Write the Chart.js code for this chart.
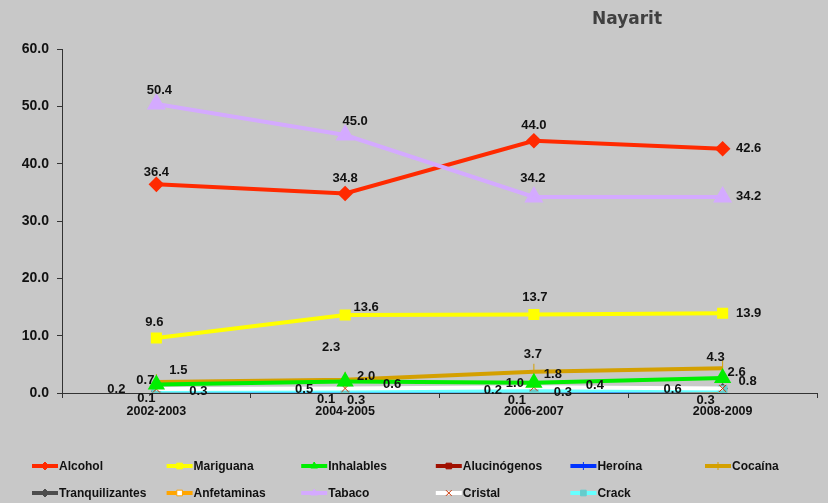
<!DOCTYPE html>
<html>
<head>
<meta charset="utf-8">
<script src="https://cdn.jsdelivr.net/npm/chart.js@4.4.0/dist/chart.umd.min.js"></script>
<style>
  html, body { margin: 0; padding: 0; background: #c8c8c8; }
  #wrap { width: 828px; height: 503px; position: relative; }
</style>
</head>
<body>
<div id="wrap"><canvas id="lineChart" width="828" height="503"></canvas></div>
<script>
// periods on the x axis
const periods = ['2002-2003', '2004-2005', '2006-2007', '2008-2009'];
const yTicks = [0, 10, 20, 30, 40, 50, 60];

// prevalence per substance
const alcohol = [36.4, 34.8, 44.0, 42.6];
const mariguana = [9.6, 13.6, 13.7, 13.9];
const inhalables = [1.5, 2.0, 1.8, 2.6];
const alucinogenos = [0.2, 0.5, 0.2, 0.6];
const heroina = [0.1, 0.1, 0.1, 0.3];
const cocaina = [1.9, 2.3, 3.7, 4.3];
const tranquilizantes = [0.3, 0.6, 0.4, 0.8];
const anfetaminas = [0.1, 0.3, 0.3, 0.1];
const tabaco = [50.4, 45.0, 34.2, 34.2];
const cristal = [0.7, 0.8, 1.0, 0.8];
const crack = [0.4, 0.4, 0.4, 0.5];

// label offsets (dx, dy) from each point, null = no label shown
const labelOffsets = {
    'Alcohol': [[0, -12], [0, -15], [0, -15], [26, 0]],
    'Mariguana': [[-2, -16], [21, -8], [1, -17], [26, 0]],
    'Inhalables': [[22, -14], [21, -5], [19, -8], [14, -6]],
    'Alucinógenos': [[-40, -2], [-41, -1], [-41, -1], [-50, 0]],
    'Heroína': [[-10, 6], [-19, 7], [-17, 8], [-17, 9]],
    'Cocaína': [null, [-14, -32], [-1, -17], [-7, -11]],
    'Tranquilizantes': [[42, 0], [47, -5], [61, -5], [25, -7]],
    'Anfetaminas': [null, [11, 9], [29, 1], null],
    'Tabaco': [[3, -14], [10, -14], [-1, -18], [26, 0]],
    'Cristal': [[-11, -9], null, [-19, -4], null],
    'Crack': [null, null, null, null]
};

function makeSet(label, data, color, style, extra) {
    return Object.assign({
        label: label,
        data: data,
        borderColor: color,
        backgroundColor: color,
        pointBorderColor: color,
        pointBackgroundColor: color,
        pointStyle: style,
        pointRadius: 4,
        borderWidth: 4,
        tension: 0,
        fill: false,
        order: 0
    }, extra || {});
}

// lower "order" is painted on top
const datasets = [
    makeSet('Alcohol', alcohol, '#ff2a00', 'rectRot', { pointRadius: 5, order: -3 }),
    makeSet('Mariguana', mariguana, '#ffff00', 'rect', { pointRadius: 5, order: -3 }),
    makeSet('Inhalables', inhalables, '#00ee00', 'triangle', { pointRadius: 6, order: -2 }),
    makeSet('Alucinógenos', alucinogenos, '#a01000', 'rect', { borderWidth: 2 }),
    makeSet('Heroína', heroina, '#0033ff', 'cross', { borderWidth: 2, pointBorderWidth: 1 }),
    makeSet('Cocaína', cocaina, '#d4a000', 'line', { pointRotation: 90, pointRadius: 8, pointBorderWidth: 1, order: -2 }),
    makeSet('Tranquilizantes', tranquilizantes, '#4d4d4d', 'rectRot', { borderWidth: 2 }),
    makeSet('Anfetaminas', anfetaminas, '#ffa500', 'rect', { borderWidth: 2, pointBackgroundColor: '#ffffff', pointBorderColor: '#ffa500', pointBorderWidth: 1 }),
    makeSet('Tabaco', tabaco, '#d4aaff', 'triangle', { pointRadius: 7, order: -4 }),
    makeSet('Cristal', cristal, '#ffffff', 'crossRot', { pointBorderColor: '#cc3300', pointBorderWidth: 1, pointRadius: 5, order: -1 }),
    makeSet('Crack', crack, '#66ffff', 'rect', { pointBackgroundColor: '#66cccc', pointBorderColor: '#66cccc', order: -1 })
];

// background colour of the whole canvas
const bgPlugin = {
    id: 'bg',
    beforeDraw(chart) {
        const ctx = chart.ctx;
        ctx.save();
        ctx.fillStyle = '#c8c8c8';
        ctx.fillRect(0, 0, chart.width, chart.height);
        ctx.restore();
    }
};

// value labels next to the points
const labelPlugin = {
    id: 'valueLabels',
    afterDatasetsDraw(chart) {
        const ctx = chart.ctx;
        ctx.save();
        ctx.font = 'bold 13px "Liberation Sans", Arial, sans-serif';
        ctx.fillStyle = '#111';
        ctx.textAlign = 'center';
        ctx.textBaseline = 'middle';
        chart.data.datasets.forEach((ds, i) => {
            const offs = labelOffsets[ds.label];
            chart.getDatasetMeta(i).data.forEach((pt, j) => {
                const o = offs[j];
                if (!o) return;
                ctx.fillText(ds.data[j].toFixed(1), pt.x + o[0], pt.y + o[1]);
            });
        });
        ctx.restore();
    }
};

// title and the two-row legend at the bottom
const legendPlugin = {
    id: 'gridLegend',
    afterDraw(chart) {
        const ctx = chart.ctx;
        ctx.save();
        ctx.font = 'bold 17px "DejaVu Sans", sans-serif';
        ctx.fillStyle = '#404040';
        ctx.textAlign = 'center';
        ctx.textBaseline = 'middle';
        ctx.fillText('Nayarit', 627, 20);

        ctx.font = 'bold 12px "Liberation Sans", Arial, sans-serif';
        ctx.textAlign = 'left';
        chart.data.datasets.forEach((ds, i) => {
            const col = i < 6 ? i : i - 6;
            const row = i < 6 ? 0 : 1;
            const x = 32 + col * 134.6;
            const y = 466 + row * 27;
            ctx.strokeStyle = ds.borderColor;
            ctx.lineWidth = 4;
            ctx.beginPath();
            ctx.moveTo(x, y);
            ctx.lineTo(x + 26, y);
            ctx.stroke();
            ctx.fillStyle = ds.pointBackgroundColor;
            ctx.strokeStyle = ds.pointBorderColor;
            ctx.lineWidth = ds.pointBorderWidth || 1;
            Chart.helpers.drawPoint(ctx, {
                pointStyle: ds.pointStyle,
                rotation: ds.pointRotation || 0,
                radius: Math.min(ds.pointRadius, 4),
                borderWidth: ds.pointBorderWidth || 1
            }, x + 13, y);
            ctx.fillStyle = '#111';
            ctx.fillText(ds.label, x + 27, y + 1);
        });
        ctx.restore();
    }
};

function createChart() {
    const ctx = document.getElementById('lineChart').getContext('2d');
    new Chart(ctx, {
        type: 'line',
        data: {
            labels: periods,
            datasets: datasets
        },
        options: {
            responsive: false,
            animation: false,
            layout: { padding: { top: 49, right: 6, bottom: 0, left: 0 } },
            scales: {
                y: {
                    min: 0,
                    max: 60,
                    afterFit: s => { s.width = 62; },
                    afterBuildTicks: s => { s.ticks = yTicks.map(v => ({ value: v })); },
                    border: { color: '#333', width: 1 },
                    grid: { display: true, drawOnChartArea: false, tickLength: 5, color: '#333' },
                    ticks: {
                        padding: 8,
                        color: '#111',
                        font: { family: '"Liberation Sans", Arial, sans-serif', size: 14, weight: 'bold' },
                        callback: v => Number(v).toFixed(1)
                    }
                },
                x: {
                    offset: true,
                    afterFit: s => { s.height = 110; },
                    border: { color: '#333', width: 1 },
                    grid: { display: true, offset: true, drawOnChartArea: false, tickLength: 5, color: '#333' },
                    ticks: {
                        padding: 6,
                        maxRotation: 0,
                        color: '#111',
                        font: { family: '"Liberation Sans", Arial, sans-serif', size: 12.5, weight: 'bold' }
                    }
                }
            },
            plugins: {
                legend: { display: false },
                tooltip: { enabled: false }
            }
        },
        plugins: [bgPlugin, labelPlugin, legendPlugin]
    });
}

createChart();
</script>
</body>
</html>
